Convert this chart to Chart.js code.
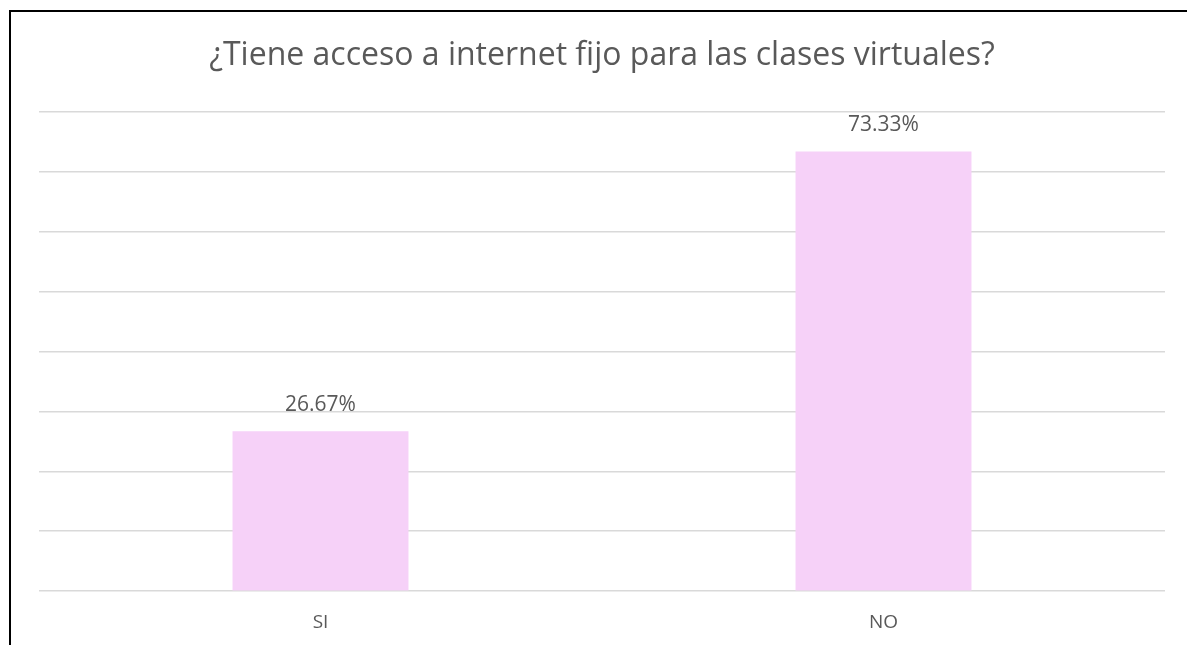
<!DOCTYPE html>
<html>
<head>
<meta charset="utf-8">
<script src="https://cdn.jsdelivr.net/npm/chart.js@4"></script>
<style>
  body { margin: 0; background: #fff; }
  #frame {
    position: absolute; left: 9px; top: 10px;
    width: 1178px; height: 635px;
    border-left: 2px solid #000; border-top: 2px solid #000;
  }
  #chart { display: block; }
</style>
</head>
<body>
<div id="frame"><canvas id="chart" width="1176" height="633"></canvas></div>
<script>
// data
const categories = ['SI', 'NO'];
const percentages = [26.67, 73.33];
const titleText = '¿Tiene acceso a internet fijo para las clases virtuales?';

const textColor = '#595959';
const fontFamily = '"Open Sans", sans-serif';

// labels above each bar
const barLabels = {
    id: 'barLabels',
    afterDatasetsDraw(chart) {
        const ctx = chart.ctx;
        const meta = chart.getDatasetMeta(0);
        ctx.save();
        ctx.font = '21px ' + fontFamily;
        ctx.fillStyle = textColor;
        ctx.textAlign = 'center';
        ctx.textBaseline = 'middle';
        meta.data.forEach((bar, i) => {
            ctx.fillText(percentages[i].toFixed(2) + '%', bar.x, bar.y - 26);
        });
        ctx.restore();
    }
};

const ctx = document.getElementById('chart').getContext('2d');
const chart = new Chart(ctx, {
    type: 'bar',
    data: {
        labels: categories,
        datasets: [{
            data: percentages,
            backgroundColor: '#F6D1F8',
            categoryPercentage: 1,
            barPercentage: 0.3125
        }]
    },
    options: {
        responsive: false,
        animation: false,
        layout: { padding: { left: 28, right: 22, top: 0, bottom: -9 } },
        plugins: {
            legend: { display: false },
            tooltip: { enabled: false },
            title: {
                display: true,
                text: titleText,
                color: textColor,
                font: { family: fontFamily, size: 32, weight: 'normal' },
                padding: { top: 25, bottom: 36 }
            }
        },
        scales: {
            x: {
                grid: { display: false, drawTicks: false },
                border: { display: false },
                ticks: {
                    color: textColor,
                    padding: 20,
                    font: { family: fontFamily, size: 19 }
                }
            },
            y: {
                min: 0,
                max: 80,
                ticks: { display: false, stepSize: 10 },
                grid: { color: '#d9d9d9', lineWidth: 1.5, drawTicks: false },
                border: { display: false }
            }
        }
    },
    plugins: [barLabels]
});
</script>
</body>
</html>
